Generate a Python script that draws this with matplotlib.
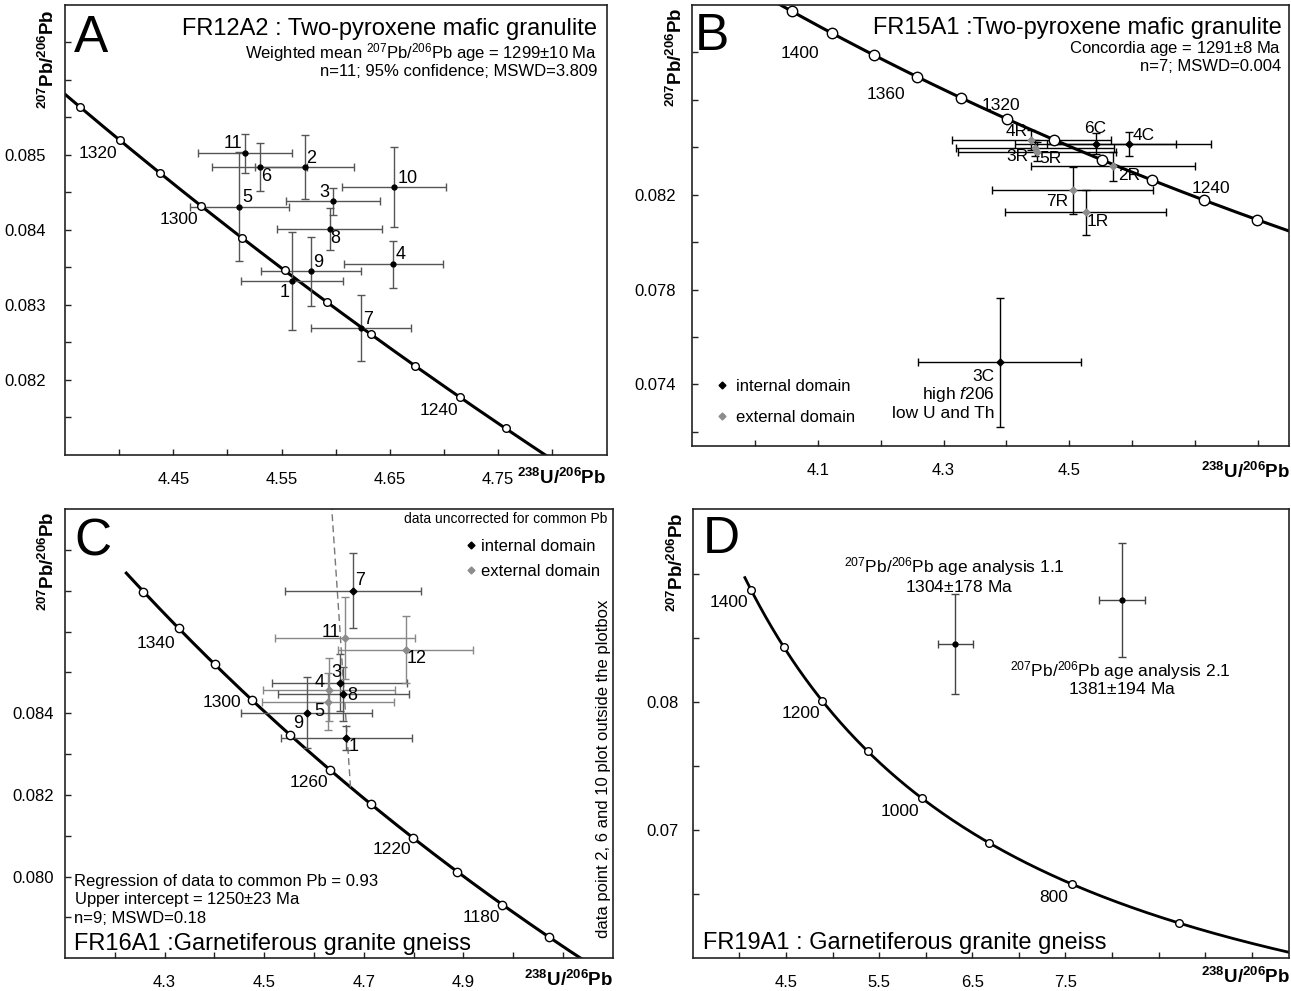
import numpy as np
import matplotlib
matplotlib.use('Agg')
import matplotlib.pyplot as plt

W, H = 1291, 991

plt.rcParams['font.family'] = ['Liberation Sans', 'DejaVu Sans']
plt.rcParams['mathtext.fontset'] = 'custom'
plt.rcParams['mathtext.rm'] = 'Liberation Sans'
plt.rcParams['mathtext.it'] = 'Liberation Sans:italic'
plt.rcParams['mathtext.bf'] = 'Liberation Sans:bold'

# decay constants (1/yr) and present day 238U/235U
L238 = 1.55125e-10
L235 = 9.8485e-10
U_RATIO = 137.88

# ---- panel A : FR12A2 ----
a_labels = ['1', '2', '3', '4', '5', '6', '7', '8', '9', '10', '11']
a_x = [4.5595, 4.5713, 4.5975, 4.6531, 4.5111, 4.5296, 4.6231, 4.5944, 4.5769, 4.6540, 4.5164]
a_y = [0.08332, 0.08484, 0.08438, 0.08354, 0.08431, 0.08484, 0.08269, 0.08401, 0.08345, 0.08457, 0.08502]
a_xerr = [0.0472, 0.0454, 0.0438, 0.0457, 0.0457, 0.0441, 0.0463, 0.0484, 0.0463, 0.0479, 0.0432]
a_yerr = [0.00065, 0.00043, 0.00018, 0.00031, 0.00073, 0.00032, 0.00044, 0.00028, 0.00046, 0.00053, 0.00026]
a_marker_ages = list(range(1230, 1331, 10))
a_label_ages = [1320, 1300, 1240]

# ---- panel B : FR15A1 ----
b_labels = ['1R', '2R', '3R', '4R', '5R', '7R', '3C', '4C', '6C']
b_x = [4.5262, 4.5698, 4.4452, 4.4400, 4.4490, 4.5059, 4.3891, 4.5953, 4.5421]
b_y = [0.08125, 0.08319, 0.08397, 0.08432, 0.08381, 0.08218, 0.07494, 0.08415, 0.08415]
b_xerr = [0.128, 0.130, 0.126, 0.126, 0.126, 0.128, 0.1305, 0.130, 0.1285]
b_yerr = [0.00095, 0.00061, 0.00035, 0.00042, 0.00040, 0.00100, 0.00272, 0.00051, 0.00045]
b_domain = ['ext', 'ext', 'ext', 'ext', 'ext', 'ext', 'int', 'int', 'int']
b_marker_ages = list(range(1220, 1421, 20))
b_label_ages = [1400, 1360, 1320, 1240]

# ---- panel C : FR16A1 ----
c_labels = ['1', '3', '4', '5', '7', '8', '9', '11', '12']
c_x = [4.6649, 4.6516, 4.6306, 4.6281, 4.6782, 4.6590, 4.5853, 4.6625, 4.7838]
c_y = [0.08339, 0.08475, 0.08458, 0.08428, 0.08700, 0.08447, 0.08401, 0.08584, 0.08556]
c_xerr = [0.131, 0.136, 0.133, 0.132, 0.136, 0.131, 0.132, 0.140, 0.135]
c_yerr = [0.00030, 0.00070, 0.00077, 0.00070, 0.00092, 0.00065, 0.00087, 0.00101, 0.00083]
c_domain = ['int', 'int', 'ext', 'ext', 'int', 'int', 'int', 'ext', 'ext']
c_marker_ages = list(range(1160, 1361, 20))
c_label_ages = [1340, 1300, 1260, 1220, 1180]
c_common_pb = 0.93
c_upper_intercept = 1250

# ---- panel D : FR19A1 ----
d_labels = ['1.1', '2.1']
d_x = [6.3185, 8.1058]
d_y = [0.08457, 0.08801]
d_xerr = [0.187, 0.248]
d_yerr = [0.00392, 0.00446]
d_marker_ages = list(range(700, 1401, 100))
d_label_ages = [1400, 1200, 1000, 800]


def concordia(age_ma):
    t = np.asarray(age_ma, float) * 1e6
    e8 = np.exp(L238 * t) - 1
    e5 = np.exp(L235 * t) - 1
    return 1 / e8, e5 / e8 / U_RATIO


fig = plt.figure(figsize=(W / 100, H / 100), dpi=100)


def ftext(x, y, s, **kw):
    fig.text(x / W, 1 - y / H, s, **kw)


def add_panel(l, t, r, b):
    ax = fig.add_axes([l / W, 1 - b / H, (r - l) / W, (b - t) / H])
    for s in ax.spines.values():
        s.set_linewidth(1.2)
        s.set_color('#222222')
    ax.tick_params(direction='in', length=4, width=1, labelsize=12, color='#222222')
    return ax


def set_ticks(ax, xt, xlab, yt, ylab, xfmt, yfmt, xpad, ypad):
    ax.set_xticks(xt)
    ax.set_xticklabels([xfmt % v if any(abs(v - u) < 1e-9 for u in xlab) else '' for v in xt])
    ax.set_yticks(yt)
    ax.set_yticklabels([yfmt % v if any(abs(v - u) < 1e-9 for u in ylab) else '' for v in yt])
    ax.tick_params(axis='x', pad=xpad)
    ax.tick_params(axis='y', pad=ypad)


def draw_concordia(ax, t_lo, t_hi, marker_ages, label_ages, offsets, ms, lw=2.2):
    cx, cy = concordia(np.linspace(t_lo, t_hi, 500))
    ax.plot(cx, cy, color='black', lw=lw, zorder=2)
    mx, my = concordia(marker_ages)
    ax.plot(mx, my, 'o', ms=ms, mfc='white', mec='black', mew=1.0, zorder=4)
    lx, ly = concordia(label_ages)
    for age, x, y in zip(label_ages, lx, ly):
        ax.annotate(str(age), (x, y), xytext=offsets[age], textcoords='offset points',
                    ha='center', va='center', fontsize=12.5)


def draw_points(ax, xs, ys, xe, ye, cols, ecols, marker, ms, cap):
    for x, y, dx, dy, c, ec in zip(xs, ys, xe, ye, cols, ecols):
        ax.errorbar(x, y, xerr=dx, yerr=dy, fmt=marker, color=c, ms=ms, ecolor=ec,
                    elinewidth=1, capsize=cap, capthick=1, zorder=3)


def label_points(ax, labels, xs, ys, offsets, size=13):
    for s, x, y in zip(labels, xs, ys):
        if s in offsets:
            ax.annotate(s, (x, y), xytext=offsets[s], textcoords='offset points',
                        ha='center', va='center', fontsize=size)


YLAB = r'$\mathbf{^{207}Pb/^{206}Pb}$'
XLAB = r'$\mathbf{^{238}U/^{206}Pb}$'

# ================= A =================
axA = add_panel(65, 5, 606.5, 455)
axA.set_xlim(4.35, 4.85)
axA.set_ylim(0.081, 0.087)
set_ticks(axA, np.arange(4.40, 4.801, 0.05), [4.45, 4.55, 4.65, 4.75],
          np.arange(0.0815, 0.08651, 0.0005), [0.082, 0.083, 0.084, 0.085], '%.2f', '%.3f', 12, 14)
draw_concordia(axA, 1200, 1360, a_marker_ages, a_label_ages,
               {1320: (-16, -9.5), 1300: (-16, -9.5), 1240: (-15, -9.5)}, ms=5.5)
draw_points(axA, a_x, a_y, a_xerr, a_yerr, ['black'] * 11, ['#555555'] * 11, 'o', 3.5, 3)
label_points(axA, a_labels, a_x, a_y,
             {'11': (-9, 7.5), '6': (4.5, -6.7), '2': (5, 6), '3': (-6.5, 6.7), '10': (9.5, 6.5),
              '5': (5.3, 6.3), '8': (4, -6.5), '4': (5, 7), '9': (5.3, 6.5), '1': (-5.3, -8),
              '7': (5.3, 6.5)})
ftext(74, 52, 'A', fontsize=37, ha='left', va='baseline')
ftext(597, 35, 'FR12A2 : Two-pyroxene mafic granulite', fontsize=17, ha='right', va='baseline')
ftext(597, 58, r'Weighted mean $^{207}$Pb/$^{206}$Pb age = 1299$\pm$10 Ma', fontsize=12, ha='right', va='baseline')
ftext(597, 76, 'n=11; 95% confidence; MSWD=3.809', fontsize=12, ha='right', va='baseline')
ftext(48, 10, YLAB, fontsize=13.5, rotation=90, ha='center', va='top')
ftext(606, 478, XLAB, fontsize=13.5, ha='right', va='center')

# ================= B =================
axB = add_panel(692.3, 5, 1289, 446)
axB.set_xlim(3.9, 4.85)
axB.set_ylim(0.0714, 0.0900)
set_ticks(axB, np.arange(4.0, 4.81, 0.1), [4.1, 4.3, 4.5],
          np.arange(0.072, 0.0881, 0.002), [0.074, 0.078, 0.082], '%.1f', '%.3f', 12, 12)
draw_concordia(axB, 1200, 1460, b_marker_ages, b_label_ages,
               {1400: (-23.5, -14.3), 1360: (-22.5, -13.2), 1320: (-4.2, 10), 1240: (5, 8.6)}, ms=7.5)
b_cols = ['#8c8c8c' if d == 'ext' else 'black' for d in b_domain]
draw_points(axB, b_x, b_y, b_xerr, b_yerr, b_cols, ['black'] * len(b_x), 'D', 3.5, 3)
label_points(axB, b_labels, b_x, b_y,
             {'4R': (-10.4, 6), '3R': (-12.7, -6), '5R': (9.3, -4.5), '6C': (0, 11.3),
              '4C': (10.6, 5.8), '2R': (11.5, -6.7), '7R': (-11.3, -8), '1R': (9, -6.5)}, size=12.5)
ftext(994.6, 381, '3C', fontsize=12.5, ha='right', va='baseline')
ftext(994.6, 399.3, r'high $\mathit{f}$206', fontsize=12.5, ha='right', va='baseline')
ftext(994.6, 417.6, 'low U and Th', fontsize=12.5, ha='right', va='baseline')
for yy, txt, col in [(385, 'internal domain', 'black'), (416, 'external domain', '#8c8c8c')]:
    axB.plot([(721.7 - 692.3) / (1289 - 692.3)], [1 - (yy - 5) / (446 - 5)], 'D', ms=3.5,
             color=col, transform=axB.transAxes, clip_on=False)
    ftext(736, yy, txt, fontsize=12, ha='left', va='center_baseline')
ftext(695, 50, 'B', fontsize=37, ha='left', va='baseline')
ftext(1281.6, 33.6, 'FR15A1 :Two-pyroxene mafic granulite', fontsize=17, ha='right', va='baseline')
ftext(1281.6, 52.6, r'Concordia age = 1291$\pm$8 Ma', fontsize=12, ha='right', va='baseline')
ftext(1281.6, 71, 'n=7; MSWD=0.004', fontsize=12, ha='right', va='baseline')
ftext(675.5, 8, YLAB, fontsize=13.5, rotation=90, ha='center', va='top')
ftext(1290, 471.7, XLAB, fontsize=13.5, ha='right', va='center')

# ================= C =================
axC = add_panel(65, 509, 612.8, 958.3)
axC.set_xlim(4.1, 5.2)
axC.set_ylim(0.078, 0.089)
set_ticks(axC, np.arange(4.2, 5.11, 0.1), [4.3, 4.5, 4.7, 4.9],
          np.arange(0.079, 0.0881, 0.001), [0.080, 0.082, 0.084], '%.1f', '%.3f', 12, 8)
draw_concordia(axC, 1120, 1370, c_marker_ages, c_label_ages,
               {1340: (-16, -11.2), 1300: (-21.5, -1.4), 1260: (-15.6, -9.1), 1220: (-15.5, -8.4),
                1180: (-15, -9)}, ms=6)
# regression line from upper intercept toward common Pb at 238U/206Pb = 0
xi, yi = concordia([c_upper_intercept])
slope = (yi[0] - c_common_pb) / xi[0]
rx = np.linspace(xi[0], 4.5, 50)
axC.plot(rx, c_common_pb + slope * rx, ls=(0, (5, 3)), color='#777777', lw=1, zorder=2.5)
c_cols = ['#8c8c8c' if d == 'ext' else 'black' for d in c_domain]
c_ecols = ['#888888' if d == 'ext' else '#555555' for d in c_domain]
draw_points(axC, c_x, c_y, c_xerr, c_yerr, c_cols, c_ecols, 'D', 3.5, 3)
label_points(axC, c_labels, c_x, c_y,
             {'7': (5, 7.2), '11': (-10.5, 4.3), '12': (8, -6.7), '3': (-2.4, 7.5), '4': (-7.2, 5),
              '8': (6.2, -0.7), '5': (-6, -6.7), '9': (-6, -7.6), '1': (5, -6.2)})
ftext(74.6, 555, 'C', fontsize=37, ha='left', va='baseline')
ftext(607.4, 523.3, 'data uncorrected for common Pb', fontsize=10, ha='right', va='baseline')
for yy, txt, col in [(545, 'internal domain', 'black'), (570, 'external domain', '#8c8c8c')]:
    axC.plot([(470.6 - 65) / (612.8 - 65)], [1 - (yy - 509) / (958.3 - 509)], 'D', ms=3.5,
             color=col, transform=axC.transAxes, clip_on=False)
    ftext(481, yy, txt, fontsize=12, ha='left', va='center_baseline')
ftext(73.8, 886, 'Regression of data to common Pb = 0.93', fontsize=12, ha='left', va='baseline')
ftext(73.8, 904.3, r'Upper intercept = 1250$\pm$23 Ma', fontsize=12, ha='left', va='baseline')
ftext(73.8, 923.3, 'n=9; MSWD=0.18', fontsize=12, ha='left', va='baseline')
ftext(73.8, 950.2, 'FR16A1 :Garnetiferous granite gneiss', fontsize=17, ha='left', va='baseline')
ftext(603.2, 769, 'data point 2, 6 and 10 plot outside the plotbox', fontsize=12,
      rotation=90, ha='center', va='center')
ftext(47.5, 512, YLAB, fontsize=13.5, rotation=90, ha='center', va='top')
ftext(612.8, 980, XLAB, fontsize=13.5, ha='right', va='center')

# ================= D =================
axD = add_panel(692.9, 509, 1289, 958.3)
axD.set_xlim(3.5, 9.9)
axD.set_ylim(0.060, 0.0951)
set_ticks(axD, np.arange(4.0, 9.51, 0.5), [4.5, 5.5, 6.5, 7.5],
          np.arange(0.065, 0.0901, 0.005), [0.07, 0.08], '%.1f', '%.2f', 12, 10)
draw_concordia(axD, 560, 1420, d_marker_ages, d_label_ages,
               {1400: (-15.5, -9.6), 1200: (-15.2, -9.1), 1000: (-16.2, -9.2), 800: (-13.4, -9.9)},
               ms=5.5, lw=2.0)
draw_points(axD, d_x, d_y, d_xerr, d_yerr, ['black'] * 2, ['#444444'] * 2, 'o', 3.5, 3)
ftext(703, 553, 'D', fontsize=37, ha='left', va='baseline')
ftext(954.6, 572.7, r'$^{207}$Pb/$^{206}$Pb age analysis 1.1', fontsize=12.5, ha='center', va='baseline')
ftext(958.7, 592, r'1304$\pm$178 Ma', fontsize=12.5, ha='center', va='baseline')
ftext(1120.2, 676, r'$^{207}$Pb/$^{206}$Pb age analysis 2.1', fontsize=12.5, ha='center', va='baseline')
ftext(1122.2, 694.3, r'1381$\pm$194 Ma', fontsize=12.5, ha='center', va='baseline')
ftext(703, 948.5, 'FR19A1 : Garnetiferous granite gneiss', fontsize=17, ha='left', va='baseline')
ftext(676.5, 513, YLAB, fontsize=13.5, rotation=90, ha='center', va='top')
ftext(1290, 976.7, XLAB, fontsize=13.5, ha='right', va='center')

fig.savefig('out.png', dpi=100)
